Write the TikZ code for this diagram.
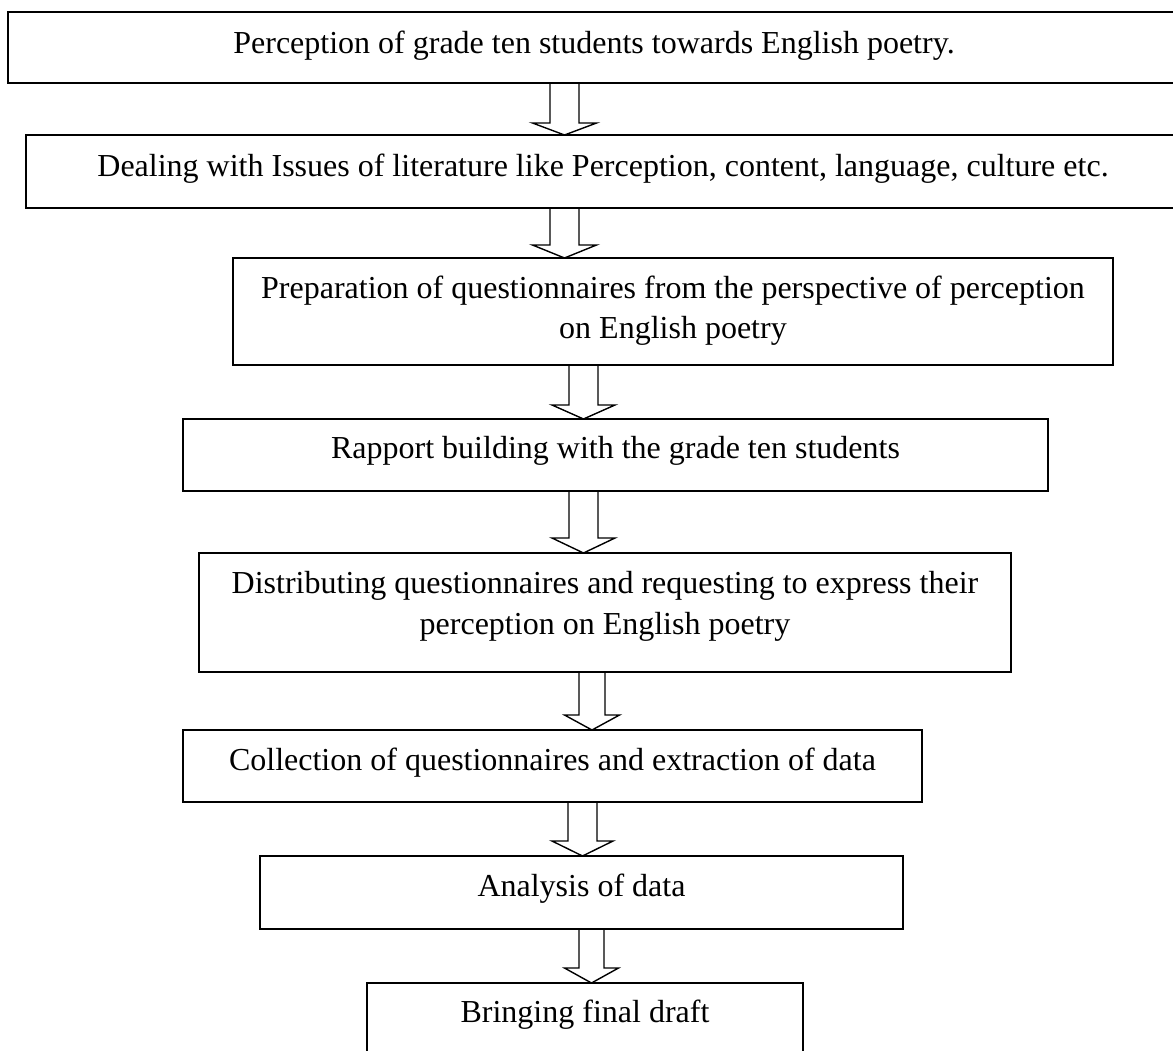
\documentclass[tikz,border=0pt]{standalone}
\usepackage{fontspec}
\setmainfont{Liberation Serif}
\usetikzlibrary{calc}
\newcommand\flowarrow[6]{%
  \draw[blockarrow] let \p1=(#1.south), \p2=(#2.north) in
    ({(#3-#4/2)*1pt},\y1) -- ({(#3-#4/2)*1pt},{\y2+#6pt})
    -- ({(#3-#5/2)*1pt},{\y2+#6pt}) -- ({#3*1pt},\y2)
    -- ({(#3+#5/2)*1pt},{\y2+#6pt}) -- ({(#3+#4/2)*1pt},{\y2+#6pt})
    -- ({(#3+#4/2)*1pt},\y1);}
\begin{document}
\begin{tikzpicture}[x=1pt,y=-1pt,
  box/.style={draw, line width=1.4pt, inner sep=0pt, outer sep=0pt},
  txt/.style={font=\fontsize{32}{41}\selectfont, inner sep=0pt, anchor=base},
  blockarrow/.style={draw, line width=1.4pt, line join=miter}]
\useasboundingbox (0,0) rectangle (1173,1050);

\node[box, minimum width=1172pt, minimum height=71pt] (b1) at (594,47.5) {};
\node[box, minimum width=1154pt, minimum height=73pt] (b2) at (603,171.5) {};
\node[box, minimum width=880pt, minimum height=107pt] (b3) at (673,311.5) {};
\node[box, minimum width=865pt, minimum height=72pt] (b4) at (615.5,455) {};
\node[box, minimum width=812pt, minimum height=119pt] (b5) at (605,612.5) {};
\node[box, minimum width=739pt, minimum height=72pt] (b6) at (552.5,766) {};
\node[box, minimum width=643pt, minimum height=73pt] (b7) at (581.5,892.5) {};
\node[box, minimum width=436pt, minimum height=87pt] (b8) at (585,1026.5) {};

\node[txt] (t1) at (594,53) {Perception of grade ten students towards English poetry.};
\node[txt] (t2) at (603,176) {Dealing with Issues of literature like Perception, content, language, culture etc.};
\node[txt] (t3a) at (673,298) {Preparation of questionnaires from the perspective of perception};
\node[txt] (t3b) at (673,338) {on English poetry};
\node[txt] (t4) at (615.5,458) {Rapport building with the grade ten students};
\node[txt] (t5a) at (605,593) {Distributing questionnaires and requesting to express their};
\node[txt] (t5b) at (605,634) {perception on English poetry};
\node[txt] (t6) at (552.5,770) {Collection of questionnaires and extraction of data};
\node[txt] (t7) at (581.5,896) {Analysis of data};
\node[txt] (t8) at (585,1022) {Bringing final draft};

\flowarrow{b1}{b2}{564.5}{29}{64}{12}
\flowarrow{b2}{b3}{564.5}{29}{64}{13}
\flowarrow{b3}{b4}{583.5}{29}{63}{14}
\flowarrow{b4}{b5}{583.5}{29}{63}{15}
\flowarrow{b5}{b6}{592}{26}{55}{15}
\flowarrow{b6}{b7}{582.5}{29}{61}{15}
\flowarrow{b7}{b8}{591.5}{25}{54}{15}
\end{tikzpicture}
\end{document}
